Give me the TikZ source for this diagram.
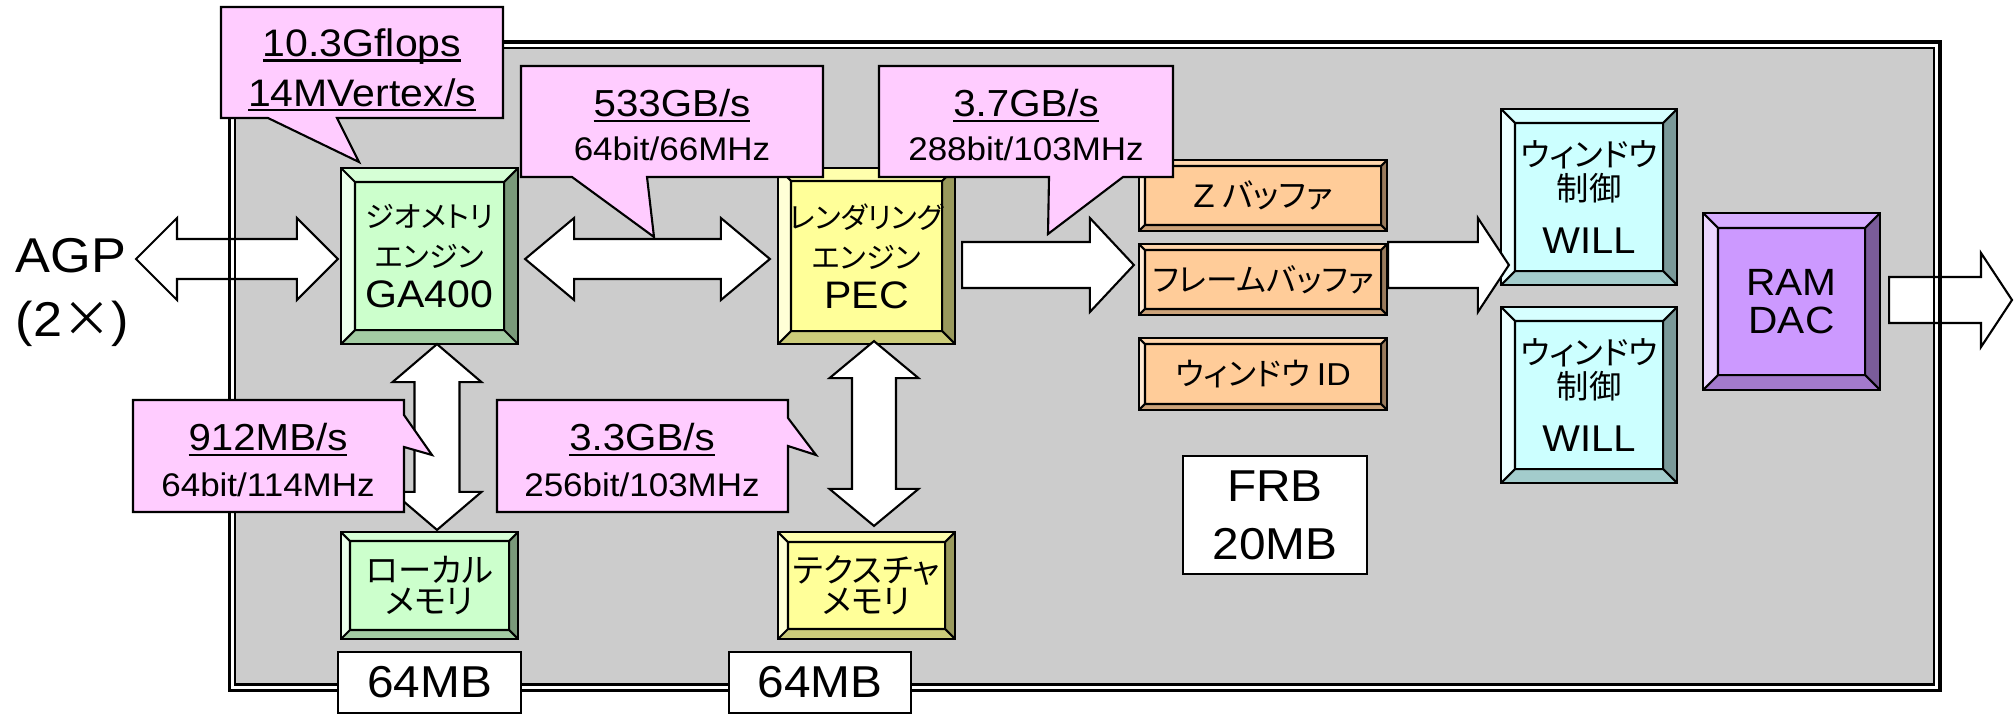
\documentclass[tikz,border=0pt]{standalone}
\usepackage{fontspec}
\setmainfont{Liberation Sans}[FakeStretch=1.07]
\newfontfamily\jp[RawFeature=+palt]{Noto Sans CJK JP}
\newfontfamily\jpfw[RawFeature=+fwid]{Noto Sans CJK JP}
\usetikzlibrary{calc}

\definecolor{panelgray}{HTML}{CCCCCC}
\definecolor{calloutpink}{HTML}{FFCCFF}
\definecolor{geomgreen}{HTML}{CCFFCC}
\definecolor{rendyellow}{HTML}{FFFF99}
\definecolor{bufforange}{HTML}{FFCC99}
\definecolor{wincyan}{HTML}{CCFFFF}
\definecolor{dacpurple}{HTML}{CC99FF}

\newcommand\fs[2]{\fontsize{#1}{#2}\selectfont}
\newsavebox\ulbox
\newcommand\uline[1]{\leavevmode\sbox\ulbox{#1}\rlap{\rule[-1.5pt]{\wd\ulbox}{0.6pt}}\usebox\ulbox}

% horizontal double block arrow: left tip, right tip, shaft half, head half, head length
\newcommand\dblH[5]{%
  \draw[blockarrow] (#1) -- ($(#1)+(#5,-#4)$) -- ($(#1)+(#5,-#3)$) -- ($(#2)+(-#5,-#3)$)
    -- ($(#2)+(-#5,-#4)$) -- (#2) -- ($(#2)+(-#5,#4)$) -- ($(#2)+(-#5,#3)$)
    -- ($(#1)+(#5,#3)$) -- ($(#1)+(#5,#4)$) -- cycle;}
% vertical double block arrow: top tip, bottom tip, shaft half, head half, head length
\newcommand\dblV[5]{%
  \draw[blockarrow] (#1) -- ($(#1)+(#4,#5)$) -- ($(#1)+(#3,#5)$) -- ($(#2)+(#3,-#5)$)
    -- ($(#2)+(#4,-#5)$) -- (#2) -- ($(#2)+(-#4,-#5)$) -- ($(#2)+(-#3,-#5)$)
    -- ($(#1)+(-#3,#5)$) -- ($(#1)+(-#4,#5)$) -- cycle;}
% single block arrow pointing right: shaft start, tip, shaft half, head half, head length
\newcommand\sglH[5]{%
  \draw[blockarrow] ($(#1)+(0,-#3)$) -- ($(#2)+(-#5,-#3)$) -- ($(#2)+(-#5,-#4)$) -- (#2)
    -- ($(#2)+(-#5,#4)$) -- ($(#2)+(-#5,#3)$) -- ($(#1)+(0,#3)$) -- cycle;}

\tikzset{
  blockarrow/.style={draw=black, fill=white, line width=0.6pt, line join=miter},
  callout/.style={draw=black, fill=calloutpink, line width=0.6pt, line join=miter},
  calltext/.style={inner sep=0pt, align=center},
  plainbox/.style={draw=black, fill=white, line width=0.6pt, inner sep=0pt, align=center},
  bevelbox/.style 2 args={draw=black, line width=0.6pt, fill=#1, inner sep=0pt, align=center,
    path picture={
      \coordinate (bvNW) at (path picture bounding box.north west);
      \coordinate (bvNE) at (path picture bounding box.north east);
      \coordinate (bvSW) at (path picture bounding box.south west);
      \coordinate (bvSE) at (path picture bounding box.south east);
      \coordinate (bvnw) at ($(bvNW)+(#2,#2)$);
      \coordinate (bvne) at ($(bvNE)+(-#2,#2)$);
      \coordinate (bvsw) at ($(bvSW)+(#2,-#2)$);
      \coordinate (bvse) at ($(bvSE)+(-#2,-#2)$);
      \fill[#1!80!white] (bvNW) -- (bvNE) -- (bvne) -- (bvnw) -- cycle;
      \fill[#1!40!white] (bvNW) -- (bvSW) -- (bvsw) -- (bvnw) -- cycle;
      \fill[#1!60!black] (bvNE) -- (bvSE) -- (bvse) -- (bvne) -- cycle;
      \fill[#1!80!black] (bvSW) -- (bvSE) -- (bvse) -- (bvsw) -- cycle;
      \draw[line width=0.6pt] (bvnw) rectangle (bvse)
        (bvNW) -- (bvnw) (bvNE) -- (bvne) (bvSW) -- (bvsw) (bvSE) -- (bvse);
    }},
}

\begin{document}
\begin{tikzpicture}[x=0.01cm, y=-0.01cm]
\useasboundingbox (0,0) rectangle (2016,715);
\fill[white] (0,0) rectangle (2016,715);

% board area
\fill[panelgray] (235,48) rectangle (1934,684.5);

% processing blocks
\node[bevelbox={geomgreen}{14}, minimum width=17.7mm, minimum height=17.6mm,
      font=\jp\fs{8.3}{11.4}] (ga) at (429.5,256)
  {ジオメトリ\\エンジン\\{\normalfont\fs{10.9}{11.4}GA400}};
\node[bevelbox={rendyellow}{13}, minimum width=17.7mm, minimum height=17.6mm,
      font=\jp\fs{8.3}{11.4}] (pec) at (866.5,256)
  {レンダリング\\エンジン\\{\normalfont\fs{10.9}{11.4}PEC}};
\node[bevelbox={geomgreen}{9}, minimum width=17.7mm, minimum height=10.7mm,
      font=\jp\fs{9.5}{8.8}] (lmem) at (429.5,585.5) {ローカル\\メモリ};
\node[bevelbox={rendyellow}{10}, minimum width=17.7mm, minimum height=10.7mm,
      font=\jp\fs{9.5}{8.8}] (tmem) at (866.5,585.5) {テクスチャ\\メモリ};

% frame buffer
\node[bevelbox={bufforange}{6}, minimum width=24.8mm, minimum height=7.1mm,
      font=\jp\fs{9.3}{11}] (zbuf) at (1263,195.5) {{\normalfont Z} バッファ};
\node[bevelbox={bufforange}{6}, minimum width=24.8mm, minimum height=7.1mm,
      font=\jp\fs{9}{11}] (fbuf) at (1263,279.5) {フレームバッファ};
\node[bevelbox={bufforange}{6}, minimum width=24.8mm, minimum height=7.2mm,
      font=\jp\fs{9}{11}] (wid) at (1263,374) {ウィンドウ {\normalfont ID}};
\node[plainbox, minimum width=18.4mm, minimum height=11.8mm,
      font=\fs{12.7}{16.5}] (frb) at (1275,515) {FRB\\20MB};

% window control and output
\node[bevelbox={wincyan}{14}, minimum width=17.6mm, minimum height=17.6mm,
      font=\jp\fs{9.2}{9.7}] (will1) at (1589,197)
  {ウィンドウ\\制御\\[5.1pt]{\normalfont\fs{10.6}{12}WILL}};
\node[bevelbox={wincyan}{14}, minimum width=17.6mm, minimum height=17.6mm,
      font=\jp\fs{9.2}{9.7}] (will2) at (1589,395)
  {ウィンドウ\\制御\\[5.1pt]{\normalfont\fs{10.6}{12}WILL}};
\node[bevelbox={dacpurple}{15}, minimum width=17.7mm, minimum height=17.7mm,
      font=\fs{10.8}{10.8}] (ramdac) at (1791.5,301.5) {RAM\\DAC};

% interface label
\node[inner sep=0pt, anchor=west, align=left, font=\fs{13.9}{18.2}] (agp) at (15,292.5)
  {AGP\\(2{\jpfw ×})};

% connectors
\coordinate (agpL) at (136,259);
\coordinate (agpR) at ($(ga.west)+(-2,3)$);
\dblH{agpL}{agpR}{20}{41}{41}

\coordinate (gpL) at ($(ga.east)+(6,3)$);
\coordinate (gpR) at ($(pec.west)+(-7,3)$);
\dblH{gpL}{gpR}{20}{41}{49}

\coordinate (pfS) at ($(pec.east)+(6,9)$);
\coordinate (pfE) at ($(fbuf.west)+(-4,-14.5)$);
\sglH{pfS}{pfE}{23}{47}{44}

\coordinate (fwS) at ($(fbuf.east)+(0,-14.5)$);
\coordinate (fwE) at ($(will1.west)+(9,68)$);
\sglH{fwS}{fwE}{23}{47}{31}

\coordinate (roS) at ($(ramdac.east)+(8,-1.5)$);
\coordinate (roE) at (2012,300);
\sglH{roS}{roE}{23}{47}{31}

\coordinate (glT) at ($(ga.south)+(7.5,-1)$);
\coordinate (glB) at ($(lmem.north)+(7.5,-1)$);
\dblV{glT}{glB}{22.5}{44.5}{38}

\coordinate (ptT) at ($(pec.south)+(7.5,-4)$);
\coordinate (ptB) at ($(tmem.north)+(7.5,-5)$);
\dblV{ptT}{ptB}{22}{44.5}{37}

% board outline (double line)
\draw[line width=0.9pt] (229.5,42) rectangle (1940,690.5);
\draw[line width=0.6pt] (235,48) rectangle (1934,684.5);

% bandwidth callouts
\draw[callout] (221,7) -- (503,7) -- (503,118) -- (337,118) -- (359,162) -- (268,118) -- (221,118) -- cycle;
\node[calltext, font=\fs{10.9}{14.2}] (c1) at (362,70) {\uline{10.3Gflops}\\\uline{14MVertex/s}};

\draw[callout] (521,66) -- (823,66) -- (823,177) -- (647,177) -- (654,237) -- (572,177) -- (521,177) -- cycle;
\node[calltext, font=\fs{10.7}{12.3}] (c2) at (672,125) {\uline{533GB/s}\\{\fs{9.3}{12.3}64bit/66MHz}};

\draw[callout] (879,66) -- (1173,66) -- (1173,177) -- (1123,177) -- (1048,234) -- (1049,177) -- (879,177) -- cycle;
\node[calltext, font=\fs{10.7}{12.3}] (c3) at (1026,125) {\uline{3.7GB/s}\\{\fs{9.3}{12.3}288bit/103MHz}};

\draw[callout] (133,400) -- (404,400) -- (404,415) -- (432,455) -- (404,447) -- (404,512) -- (133,512) -- cycle;
\node[calltext, font=\fs{10.7}{13.1}] (c4) at (268,460) {\uline{912MB/s}\\{\fs{9.3}{13.1}64bit/114MHz}};

\draw[callout] (497,400) -- (788,400) -- (788,418) -- (816,455) -- (788,446) -- (788,512) -- (497,512) -- cycle;
\node[calltext, font=\fs{10.7}{13.1}] (c5) at (642,460) {\uline{3.3GB/s}\\{\fs{9.3}{13.1}256bit/103MHz}};

% memory sizes
\node[plainbox, minimum width=18.3mm, minimum height=6.1mm, font=\fs{12.7}{14}] (mb1) at (429.5,682.5) {64MB};
\node[plainbox, minimum width=18.2mm, minimum height=6.1mm, font=\fs{12.7}{14}] (mb2) at (820,682.5) {64MB};
\end{tikzpicture}
\end{document}
